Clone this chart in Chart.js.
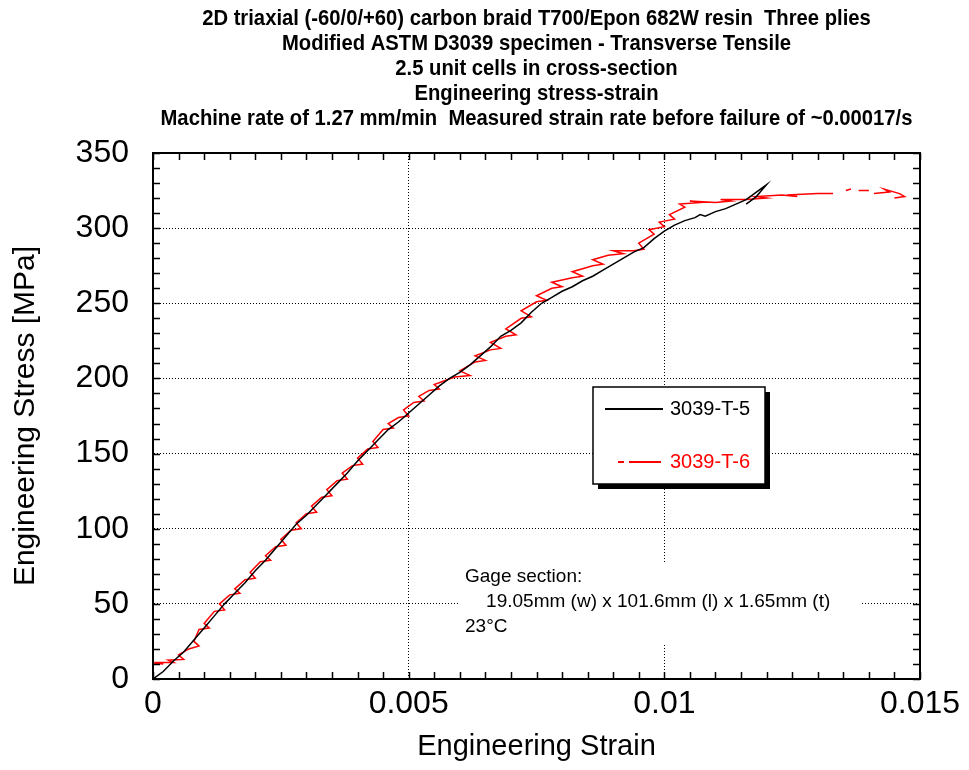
<!DOCTYPE html>
<html>
<head>
<meta charset="utf-8">
<title>Transverse Tensile - stress-strain</title>
<script src="https://cdn.jsdelivr.net/npm/chart.js@4.4.1/dist/chart.umd.min.js"></script>
<style>
  html, body { margin: 0; padding: 0; background: #fff; }
  #wrap { width: 969px; height: 770px; }
</style>
</head>
<body>
<div id="wrap"><canvas id="c" width="969" height="770"></canvas></div>
<script>
// title lines, legend names and note text
var titleLines = [
  "2D triaxial (-60/0/+60) carbon braid T700/Epon 682W resin  Three plies",
  "Modified ASTM D3039 specimen - Transverse Tensile",
  "2.5 unit cells in cross-section",
  "Engineering stress-strain",
  "Machine rate of 1.27 mm/min  Measured strain rate before failure of ~0.00017/s"
];
var noteLines = ["Gage section:", "    19.05mm (w) x 101.6mm (l) x 1.65mm (t)", "23\u00B0C"];
var seriesNames = ["3039-T-5", "3039-T-6"];
var xTickLabels = ["0", "0.005", "0.01", "0.015"];
var yTickLabels = ["0", "50", "100", "150", "200", "250", "300", "350"];

// 3039-T-5 (black)
var strainT5 = [0, 0.0002, 0.0004, 0.0006, 0.0008, 0.0010, 0.0012, 0.0014, 0.0016, 0.0018,
  0.0020, 0.0022, 0.0024, 0.0026, 0.0028, 0.0030, 0.0032, 0.0034, 0.0036, 0.0038,
  0.0040, 0.0042, 0.0044, 0.0046, 0.0048, 0.0050, 0.0052, 0.0054, 0.0056, 0.0058,
  0.0060, 0.0062, 0.0064, 0.0066, 0.0068, 0.0070, 0.0072, 0.0074, 0.0076, 0.0078,
  0.0080, 0.0082, 0.0084, 0.0086, 0.0088, 0.0090, 0.0092, 0.0094, 0.0096, 0.0098,
  0.0100, 0.0102, 0.0104, 0.0106, 0.0107, 0.0108, 0.0110, 0.0112, 0.0114, 0.0116,
  0.0118, 0.0120, 0.0119, 0.0118, 0.0116];
var stressT5 = [0, 5, 12, 18, 26, 34, 42, 50, 57, 64,
  72, 79, 87, 95, 103, 109, 116, 123, 130, 137,
  145, 152, 159, 166, 171, 177, 183, 189, 195, 200,
  204, 209, 215, 221, 228, 232, 237, 244, 250, 254,
  258, 261, 265, 268, 272, 276, 280, 284, 287, 293,
  298, 302, 305, 307, 309, 308, 311, 313, 316, 319,
  324, 329, 325, 321, 316];

// 3039-T-6 (red), null = break in the trace
var strainT6 = [0, 0.0002, 0.0001, 0.0004, 0.0003, 0.0006, 0.0005, 0.0007, 0.0009, 0.0008,
  0.0009, 0.0011, 0.0010, 0.0012, 0.0014, 0.0013, 0.0015, 0.0017, 0.0016, 0.0018,
  0.0020, 0.0019, 0.0021, 0.0023, 0.0022, 0.0024, 0.0026, 0.0025, 0.0027, 0.0029,
  0.0028, 0.0030, 0.0032, 0.0031, 0.0033, 0.0035, 0.0034, 0.0036, 0.0038, 0.0037,
  0.0039, 0.0041, 0.0040, 0.0042, 0.0044, 0.0043, 0.0045, 0.0047, 0.0046, 0.0048,
  0.0050, 0.0049, 0.0051, 0.0053, 0.0052, 0.0054, 0.0056, 0.0055, 0.0059, 0.0062,
  0.0060, 0.0063, 0.0065, 0.0063, 0.0066, 0.0068, 0.0066, 0.0069, 0.0071, 0.0069,
  0.0072, 0.0074, 0.0072, 0.0075, 0.0077, 0.0075, 0.0078, 0.0080, 0.0078, 0.0082,
  0.0084, 0.0082, 0.0086, 0.0088, 0.0086, 0.0089, 0.0092, 0.0090, 0.0094, 0.0096,
  0.0095, 0.0098, 0.0097, 0.0100, 0.0099, 0.0102, 0.0101, 0.0104, 0.0103, 0.0107,
  0.0105, 0.0110, 0.0113, 0.0111, 0.0116, 0.0120, 0.0118, 0.0123, 0.0126, 0.0124,
  0.0130, 0.0133, 0.0133, 0.01355, 0.01365, 0.01365, 0.0138, 0.0140, 0.0140, 0.0141,
  0.0144, 0.0143, 0.0146, 0.0147, 0.0145];
var stressT6 = [10.6, 10, 11, 11, 12.5, 13, 16, 20, 22, 25,
  33, 34, 37, 45, 46, 50, 56, 57, 60, 66,
  67, 71, 78, 79, 82, 88, 89, 93, 99, 100,
  104, 110, 111, 115, 121, 122, 126, 132, 133, 137,
  142, 143, 147, 153, 154, 158, 166, 167, 170, 174,
  175, 179, 184, 185, 188, 192, 193, 196, 201, 202,
  205, 211, 212, 215, 219, 220, 224, 228, 229, 233,
  240, 241, 245, 251, 252, 255, 260, 261, 264, 267,
  268, 271, 275, 276, 279, 282, 283, 285, 285, 286,
  290, 296, 299, 301, 304, 306, 309, 314, 316, 317,
  318, 317, 318, 319, 319, 320, 321, 322, 321, 322,
  323, 323, null, 325, 326, null, 325, 325, null, 323,
  324, 326, 323, 321, 320];

function toPoints(xs, ys) {
  return xs.map(function (x, i) { return {x: x, y: ys[i]}; });
}

var FONT = '"Liberation Sans", Arial, sans-serif';

// title block centred over the plot area, slightly condensed
var titlePlugin = {
  id: "titleBlock",
  afterDraw: function (chart) {
    var ctx = chart.ctx, a = chart.chartArea;
    var cx = (a.left + a.right) / 2;
    var sx = 0.92;
    ctx.save();
    ctx.fillStyle = "#000";
    ctx.font = "bold 22px " + FONT;
    ctx.textAlign = "center";
    ctx.textBaseline = "middle";
    ctx.scale(sx, 1);
    titleLines.forEach(function (t, i) { ctx.fillText(t, cx / sx, 19 + i * 25); });
    ctx.restore();
  }
};

// frame on all four sides plus inward minor ticks
var framePlugin = {
  id: "frame",
  afterDatasetsDraw: function (chart) {
    var ctx = chart.ctx, a = chart.chartArea;
    var xs = chart.scales.x, ys = chart.scales.y;
    ctx.save();
    ctx.strokeStyle = "#000";
    ctx.lineWidth = 1.5;
    ctx.beginPath();
    for (var v = 0; v <= 0.015 + 1e-9; v += 0.0005) {
      var px = Math.round(xs.getPixelForValue(v)) + 0.5;
      ctx.moveTo(px, a.bottom); ctx.lineTo(px, a.bottom - 7);
      ctx.moveTo(px, a.top); ctx.lineTo(px, a.top + 7);
    }
    for (var w = 0; w <= 350; w += 10) {
      var py = Math.round(ys.getPixelForValue(w)) + 0.5;
      ctx.moveTo(a.left, py); ctx.lineTo(a.left + 7, py);
      ctx.moveTo(a.right, py); ctx.lineTo(a.right - 7, py);
    }
    ctx.stroke();
    ctx.lineWidth = 2;
    ctx.strokeRect(a.left, a.top, a.right - a.left, a.bottom - a.top);
    ctx.restore();
  }
};

// boxed legend with drop shadow and the gage-section note
var boxPlugin = {
  id: "boxes",
  afterDatasetsDraw: function (chart) {
    var ctx = chart.ctx, a = chart.chartArea;
    var ds = chart.data.datasets;
    ctx.save();
    var bx = a.left + 440, by = a.top + 234, bw = 172, bh = 97;
    ctx.fillStyle = "#000";
    ctx.fillRect(bx + 5, by + 5, bw, bh);
    ctx.fillStyle = "#fff";
    ctx.fillRect(bx, by, bw, bh);
    ctx.strokeStyle = "#000";
    ctx.lineWidth = 1.5;
    ctx.strokeRect(bx, by, bw, bh);
    ctx.font = "20px " + FONT;
    ctx.textBaseline = "middle";
    ctx.textAlign = "left";
    var rows = [by + 22, by + 75];
    ds.forEach(function (d, i) {
      ctx.strokeStyle = d.borderColor;
      ctx.lineWidth = 2;
      ctx.setLineDash(i === 0 ? [] : [6, 5, 32, 5]);
      ctx.beginPath();
      ctx.moveTo(bx + (i === 0 ? 12 : 25), rows[i]);
      ctx.lineTo(bx + 70, rows[i]);
      ctx.stroke();
      ctx.setLineDash([]);
      ctx.fillStyle = d.borderColor;
      ctx.fillText(d.label, bx + 77, rows[i]);
    });
    // note
    ctx.fillStyle = "#fff";
    ctx.fillRect(a.left + 307, a.top + 409, 402, 83);
    ctx.fillStyle = "#000";
    ctx.font = "19px " + FONT;
    noteLines.forEach(function (t, i) {
      ctx.fillText(t, a.left + 312, a.top + 424 + i * 25);
    });
    ctx.restore();
  }
};

new Chart(document.getElementById("c"), {
  type: "scatter",
  data: {
    datasets: [
      {label: seriesNames[0], data: toPoints(strainT5, stressT5), showLine: true,
       borderColor: "#000000", borderWidth: 1.5, pointRadius: 0, tension: 0, spanGaps: false},
      {label: seriesNames[1], data: toPoints(strainT6, stressT6), showLine: true,
       borderColor: "#ff0000", borderWidth: 1.5, pointRadius: 0, tension: 0, spanGaps: false}
    ]
  },
  options: {
    responsive: false,
    animation: false,
    layout: {padding: {top: 153, right: 49, bottom: 0, left: 0}},
    plugins: {legend: {display: false}, tooltip: {enabled: false}, title: {display: false}},
    scales: {
      x: {
        type: "linear", min: 0, max: 0.015,
        afterFit: function (s) { s.height = 91; },
        ticks: {stepSize: 0.005, padding: 6, color: "#000", font: {family: FONT, size: 32},
                callback: function (v, i) { return xTickLabels[i]; }},
        grid: {color: "#000", lineWidth: 1, drawTicks: false},
        border: {display: true, color: "#000", width: 2, dash: [1, 2]},
        title: {display: true, text: "Engineering Strain", color: "#000",
                font: {family: FONT, size: 29}, padding: {top: 4, bottom: 6}}
      },
      y: {
        type: "linear", min: 0, max: 350,
        afterFit: function (s) { s.width = 153; },
        ticks: {stepSize: 50, padding: 24, color: "#000", font: {family: FONT, size: 32},
                callback: function (v, i) { return yTickLabels[i]; }},
        grid: {color: "#000", lineWidth: 1, drawTicks: false},
        border: {display: true, color: "#000", width: 2, dash: [1, 2]},
        title: {display: true, text: "Engineering Stress [MPa]", color: "#000",
                font: {family: FONT, size: 30}, padding: {top: 8, bottom: 0}}
      }
    }
  },
  plugins: [titlePlugin, framePlugin, boxPlugin]
});
</script>
</body>
</html>
